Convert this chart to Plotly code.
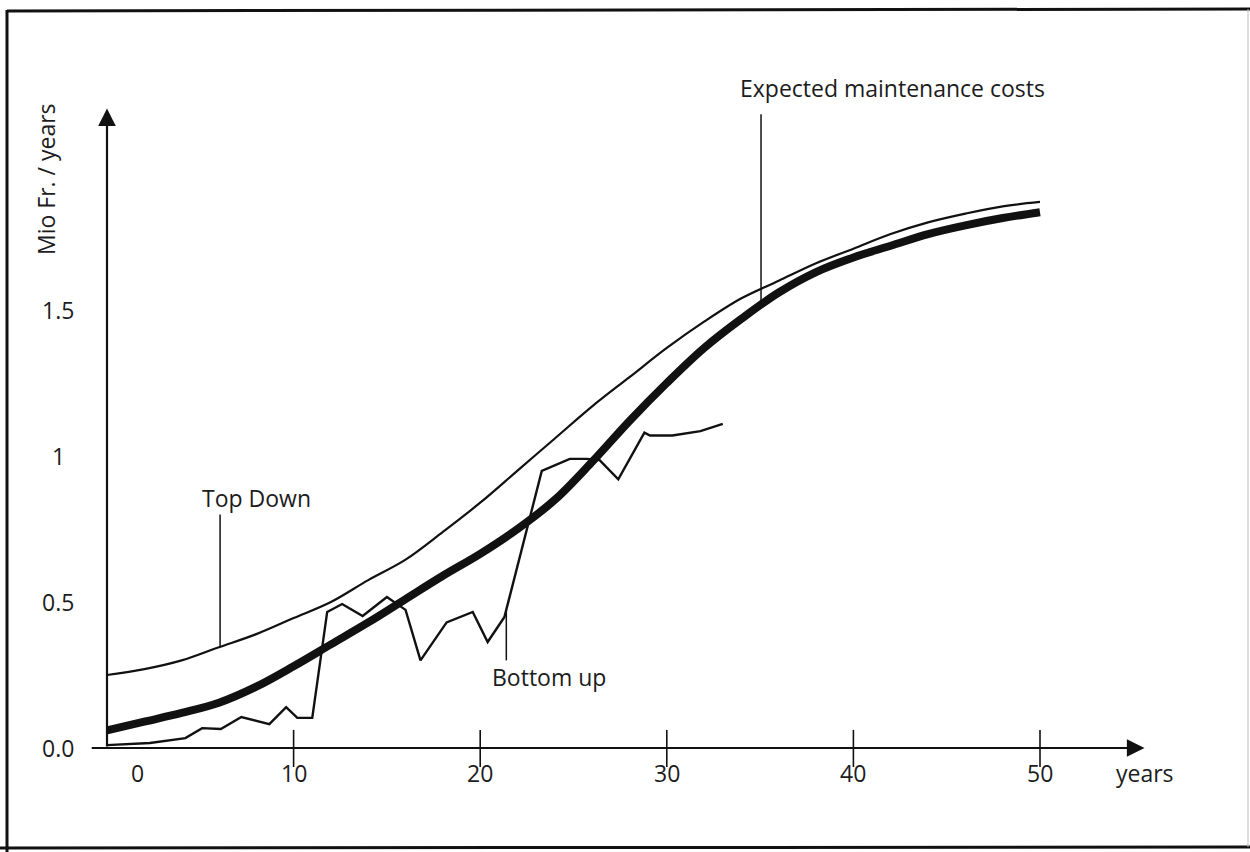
import numpy as np
import plotly.graph_objects as go

# ---------------- data ----------------
curve_years = [0, 2, 4, 6, 8, 10, 12, 14, 16, 18, 20, 22, 24, 26, 28, 30, 32, 34, 36, 38, 40, 42, 44, 46, 48, 50]
top_down = [0.25, 0.27, 0.30, 0.345, 0.39, 0.445, 0.50, 0.575, 0.645, 0.74, 0.84, 0.95, 1.06, 1.17, 1.27, 1.37,
            1.46, 1.54, 1.60, 1.66, 1.71, 1.76, 1.80, 1.83, 1.855, 1.87]
expected = [0.06, 0.09, 0.12, 0.155, 0.21, 0.28, 0.355, 0.43, 0.51, 0.59, 0.665, 0.75, 0.85, 0.98, 1.12, 1.25,
            1.37, 1.47, 1.56, 1.63, 1.68, 1.72, 1.76, 1.79, 1.815, 1.835]

bottom_up_years = [0, 2.3, 4.2, 5.1, 6.1, 7.2, 8.7, 9.6, 10.2, 11.0, 11.8, 12.6, 13.7, 15.0, 16.0, 16.8, 18.2,
                   19.6, 20.4, 21.3, 23.3, 24.8, 25.7, 26.4, 27.4, 28.8, 29.1, 30.3, 31.8, 33.0]
bottom_up = [0.01, 0.017, 0.034, 0.068, 0.065, 0.106, 0.082, 0.14, 0.103, 0.103, 0.466, 0.493, 0.452, 0.517,
             0.473, 0.30, 0.43, 0.466, 0.363, 0.449, 0.949, 0.99, 0.99, 0.986, 0.92, 1.08, 1.07, 1.07, 1.085, 1.11]

x_ticks = [0, 10, 20, 30, 40, 50]
x_tick_labels = ["0", "10", "20", "30", "40", "50"]
y_ticks = [0.0, 0.5, 1.0, 1.5]
y_tick_labels = ["0.0", "0.5", "1", "1.5"]

# ---------------- geometry of the drawing ----------------
W, H = 1250, 852
ORIGIN_PX = (107, 748)     # pixel position of (0, 0)
PX_PER_YEAR = 18.66
PX_PER_UNIT = 292.0

x_range = [-ORIGIN_PX[0] / PX_PER_YEAR, (W - ORIGIN_PX[0]) / PX_PER_YEAR]
y_range = [-(H - ORIGIN_PX[1]) / PX_PER_UNIT, ORIGIN_PX[1] / PX_PER_UNIT]

FONT = dict(family="Open Sans, Lato, sans-serif", size=23, color="#1c1c1c")
INK = "#111111"

fig = go.Figure()

fig.add_trace(go.Scatter(x=curve_years, y=top_down, mode="lines", line=dict(color=INK, width=2.2, shape="spline"),
                         name="Top Down", hoverinfo="x+y"))
fig.add_trace(go.Scatter(x=curve_years, y=expected, mode="lines", line=dict(color=INK, width=8, shape="spline"),
                         name="Expected maintenance costs", hoverinfo="x+y"))
fig.add_trace(go.Scatter(x=bottom_up_years, y=bottom_up, mode="lines", line=dict(color=INK, width=2.4),
                         name="Bottom up", hoverinfo="x+y"))

annotations = []
shapes = []

# axes with arrow heads
x_axis_start, x_axis_end = -0.9, 55.6
y_axis_end = 2.19
annotations.append(dict(x=x_axis_end, y=0, ax=x_axis_start, ay=0, xref="x", yref="y", axref="x", ayref="y",
                        showarrow=True, arrowhead=2, arrowsize=1.6, arrowwidth=2.2, arrowcolor=INK, text=""))
annotations.append(dict(x=0, y=y_axis_end, ax=0, ay=0, xref="x", yref="y", axref="x", ayref="y",
                        showarrow=True, arrowhead=2, arrowsize=1.6, arrowwidth=2.2, arrowcolor=INK, text=""))

# x ticks (crossing the axis) and labels
for v, t in zip(x_ticks, x_tick_labels):
    if v > 0:
        shapes.append(dict(type="line", xref="x", yref="y", x0=v, x1=v, y0=-0.065, y1=0.062,
                           line=dict(color=INK, width=1.6)))
    annotations.append(dict(x=v, y=-0.085, xref="x", yref="y", text=t, showarrow=False, font=FONT,
                            xanchor="center", yanchor="middle", xshift=30 if v == 0 else 0))
annotations.append(dict(x=x_axis_end, y=-0.085, xref="x", yref="y", text="years", showarrow=False, font=FONT,
                        xanchor="center", yanchor="middle"))

# y tick labels
for v, t in zip(y_ticks, y_tick_labels):
    annotations.append(dict(x=-2.6, y=v, xref="x", yref="y", text=t, showarrow=False, font=FONT,
                            xanchor="center", yanchor="middle"))
annotations.append(dict(x=-3.3, y=1.95, xref="x", yref="y", text="Mio Fr. / years", showarrow=False,
                        font=FONT, textangle=-90, xanchor="center", yanchor="middle"))

# labels with leader lines
td_x = 6.06
shapes.append(dict(type="line", xref="x", yref="y", x0=td_x, x1=td_x, y0=float(np.interp(td_x, curve_years, top_down)),
                   y1=0.80, line=dict(color=INK, width=1.5)))
annotations.append(dict(x=8.0, y=0.855, xref="x", yref="y", text="Top Down", showarrow=False, font=FONT,
                        xanchor="center", yanchor="middle"))

bu_x = 21.4
shapes.append(dict(type="line", xref="x", yref="y", x0=bu_x, x1=bu_x,
                   y0=float(np.interp(bu_x, bottom_up_years, bottom_up)), y1=0.30, line=dict(color=INK, width=1.5)))
annotations.append(dict(x=23.7, y=0.243, xref="x", yref="y", text="Bottom up", showarrow=False, font=FONT,
                        xanchor="center", yanchor="middle"))

em_x = 35.05
shapes.append(dict(type="line", xref="x", yref="y", x0=em_x, x1=em_x,
                   y0=float(np.interp(em_x, curve_years, expected)), y1=2.17, line=dict(color=INK, width=1.5)))
annotations.append(dict(x=42.1, y=2.26, xref="x", yref="y", text="Expected maintenance costs", showarrow=False,
                        font=FONT, xanchor="center", yanchor="middle"))

# scanned frame around the figure
def px(x):
    return x / W

def py(y):
    return 1 - y / H

shapes.append(dict(type="line", xref="paper", yref="paper", x0=px(7), x1=px(7), y0=py(10), y1=py(852),
                   line=dict(color=INK, width=3)))
shapes.append(dict(type="line", xref="paper", yref="paper", x0=px(7), x1=px(1250), y0=py(11), y1=py(9),
                   line=dict(color=INK, width=3)))
shapes.append(dict(type="line", xref="paper", yref="paper", x0=px(0), x1=px(1250), y0=py(848), y1=py(847),
                   line=dict(color=INK, width=3)))
shapes.append(dict(type="line", xref="paper", yref="paper", x0=px(1248), x1=px(1248), y0=py(9), y1=py(847),
                   line=dict(color="#bbbbbb", width=1)))

fig.update_layout(
    width=W, height=H,
    margin=dict(l=0, r=0, t=0, b=0),
    paper_bgcolor="white", plot_bgcolor="white",
    showlegend=False,
    xaxis=dict(range=x_range, visible=False, fixedrange=True),
    yaxis=dict(range=y_range, visible=False, fixedrange=True),
    annotations=annotations,
    shapes=shapes,
)

fig.write_html("out.html", config={"displayModeBar": False},
               post_script="document.body.style.margin='0';document.body.style.overflow='hidden';")
